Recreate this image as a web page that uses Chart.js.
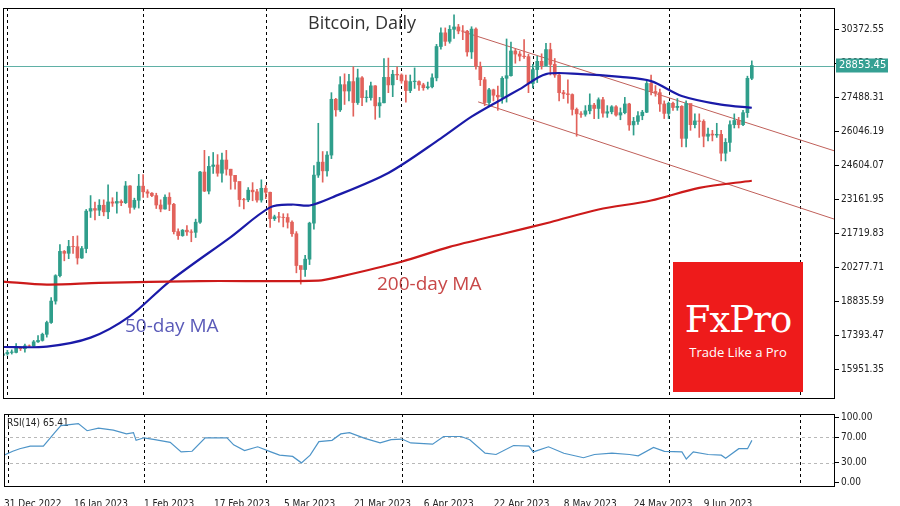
<!DOCTYPE html>
<html>
<head>
<meta charset="utf-8">
<script src="https://cdn.jsdelivr.net/npm/chart.js@4.4.0/dist/chart.umd.min.js"></script>
<style>
  body { margin: 0; background: #fff; }
  #wrap { position: relative; width: 900px; height: 506px; overflow: hidden; }
  #mainBox { position: absolute; left: 0; top: 0; width: 900px; height: 406px; }
  #rsiBox  { position: absolute; left: 0; top: 406px; width: 900px; height: 100px; }
  .lbl { position: absolute; font-family: "Open Sans", "DejaVu Sans", sans-serif; white-space: nowrap; }
  #logo { position: absolute; left: 673px; top: 262px; width: 130px; height: 130px; background: #ee1b1b; color: #fff; text-align: center; }
</style>
</head>
<body>
<div id="wrap">
  <div id="mainBox"><canvas id="mainChart"></canvas></div>
  <div id="rsiBox"><canvas id="rsiChart"></canvas></div>
  <div class="lbl" style="left:308px;top:10px;font-size:18px;color:#333;">Bitcoin, Daily</div>
  <div class="lbl" style="left:125px;top:312px;font-size:19px;color:#5a5ab8;">50-day MA</div>
  <div class="lbl" style="left:377px;top:270px;font-size:19px;color:#c84848;">200-day MA</div>
  <div id="logo">
    <div style="font-family:'DejaVu Serif',serif;font-size:37px;margin-top:36px;letter-spacing:-1px;">FxPro</div>
    <div style="font-family:'Open Sans',sans-serif;font-size:13px;margin-top:2px;">Trade Like a Pro</div>
  </div>
</div>
<script>
// ---- data (day 0 = 31 Dec 2022) ----
const FIRST_OPEN = 16540;
const closes = [16610,16670,16670,16850,16830,16950,16940,17120,17180,17440,17940,18850,19930,20960,20880,21170,21160,20680,21080,22670,
  22780,22710,22920,22640,23060,23010,23080,23030,23740,22830,23130,23730,23490,23430,23330,22930,22760,23260,22960,21800,
  21630,21860,21790,21770,22200,24330,23520,24570,24630,24280,24840,24450,24190,23930,23160,23150,23560,23490,23140,23640,
  23470,22350,22430,22410,22400,22200,21710,20360,20190,20630,22160,24200,24750,24380,25050,27420,26970,28040,27770,28170,
  27280,28330,27490,27490,27990,27140,27270,28350,28030,28480,28450,28200,27790,28170,28170,28030,27910,27950,28330,29660,
  30240,29880,30390,30490,30320,30310,29430,30400,28820,28250,27280,27820,27590,27520,28310,28420,29470,29340,29250,29230,
  28090,28680,29030,28850,29530,28900,28450,27700,27650,27620,26990,26800,26780,26930,27170,27030,27400,26830,26890,27100,
  26750,26850,27220,26330,26480,26720,26870,28090,27750,27700,27220,26820,27250,27070,27120,25760,27240,26340,26500,26480,
  25850,25940,25900,25930,25130,25590,26340,26520,26340,26850,28310,28853.45];
const highs = [16630,16760,16780,17050,16880,17020,16990,17180,17390,17490,18000,19000,19970,21250,21000,21430,21600,21620,21170,22740,
  23330,23050,23160,23150,23790,23240,23480,23150,23930,23750,23220,24230,24220,23580,23460,23430,23150,23360,23450,23000,
  21920,21890,22060,21880,22330,24360,25250,24990,25160,25070,25130,25250,24450,24120,23900,23210,23670,23880,23600,24000,
  23760,23480,22500,22620,22560,22560,22260,21800,20300,20790,22200,24600,26400,25200,25200,27700,27460,28380,28500,28480,
  28800,28700,28380,27790,28150,28000,27500,29150,29170,28650,28800,28500,28450,28450,28750,28200,28100,28150,28500,29750,
  30450,30450,30550,31000,30600,30550,30350,30500,30450,29000,28350,27880,27850,27980,28380,29980,29850,29550,29450,29950,
  29330,28900,29250,29350,29800,29800,29150,28550,27800,28250,27650,27050,26900,27150,27650,27250,27480,27500,27150,27150,
  27150,27050,27500,27250,26650,26900,26950,28200,28450,28000,27850,27350,27300,27300,27450,27150,27350,27150,26800,26800,
  26550,26200,26100,26400,26100,25750,26500,26800,26650,26950,28400,29050];
const lows = [16500,16550,16600,16650,16750,16680,16900,16910,17100,17150,17320,17900,18720,19880,20560,20650,20870,20420,20660,20900,
  22400,22300,22480,22470,22350,22870,22580,22900,22990,22580,22750,22800,23250,23250,23280,22780,22640,22750,22690,21700,
  21470,21600,21640,21370,21550,22150,23500,23400,24270,24150,23900,24200,23600,23600,22870,22760,23070,23110,23050,23050,
  23200,21980,22270,22200,22000,21950,21600,20050,19570,19900,20400,21900,24100,23900,24150,24900,26700,26900,27200,27350,
  26700,27200,27150,27300,27380,26570,26650,27260,27700,27530,28250,28100,27300,27700,27880,27800,27800,27850,27900,28200,
  29550,29700,29800,30000,30200,29950,29250,29150,28700,28000,27150,27150,27350,26950,27250,27300,28400,28950,29050,29150,
  27700,27900,28130,28700,28850,28450,28350,27350,27450,27250,26750,25850,26650,26700,26800,26600,26600,26660,26650,26800,
  26700,26550,26800,26100,25900,26350,26550,26850,27600,27550,26900,26600,26600,26950,26950,25400,25400,26100,26200,25800,
  25400,25650,25650,25800,24800,24800,25200,26200,26200,26300,26650,28250];

const ma50 = [{x:0,y:16900},{x:10,y:16920},{x:20,y:17300},{x:29,y:18215},{x:38,y:19680},{x:52,y:21570},{x:61,y:22830},
  {x:66,y:22950},{x:70,y:22910},{x:75,y:23240},{x:88,y:24290},{x:100,y:25760},{x:107,y:26680},{x:114,y:27430},
  {x:118,y:27850},{x:124,y:28490},{x:132,y:28490},{x:141,y:28370},{x:148,y:28190},{x:155,y:27560},{x:164,y:27190},{x:171,y:27060}];
const ma200 = [{x:0,y:19680},{x:10,y:19550},{x:22,y:19620},{x:45,y:19700},{x:72,y:19720},{x:77,y:19890},{x:91,y:20520},
  {x:102,y:21150},{x:114,y:21700},{x:125,y:22200},{x:136,y:22740},{x:148,y:23120},{x:159,y:23660},{x:171,y:23960}];
const channelUpper = [{x:105,y:30290},{x:190,y:25220}];
const channelLower = [{x:108.5,y:27310},{x:190,y:22320}];
const rsi = [{x:0,y:42},{x:2,y:48},{x:3.6,y:52},{x:6,y:56},{x:9,y:56},{x:11.6,y:77},{x:13,y:88},{x:17,y:91},{x:19,y:80},
  {x:21.6,y:84},{x:25,y:81},{x:28,y:75},{x:29.6,y:77},{x:30.2,y:65},{x:32,y:69},{x:34.5,y:66},{x:38,y:62},{x:40.5,y:47},
  {x:43,y:48},{x:46,y:69},{x:51,y:69},{x:52.5,y:58},{x:55,y:49},{x:58,y:55},{x:61,y:47},{x:63,y:42},{x:66,y:40},{x:68,y:30},
  {x:70,y:42},{x:72,y:63},{x:75,y:65},{x:77,y:75},{x:79,y:77},{x:82.5,y:68},{x:86,y:61},{x:88.5,y:66},{x:91,y:67},{x:93,y:61},
  {x:98,y:59},{x:100.5,y:71},{x:104.5,y:71},{x:106.5,y:66},{x:110,y:45},{x:112.5,y:43},{x:116.5,y:57},{x:120,y:56},{x:121,y:47},
  {x:124.5,y:55},{x:128,y:45},{x:132.5,y:38},{x:135,y:43},{x:139,y:45},{x:143,y:43},{x:145,y:41},{x:148.5,y:54},{x:151,y:48},
  {x:155,y:47},{x:156,y:36},{x:157.6,y:47},{x:161,y:43},{x:164,y:42},{x:165,y:37},{x:168,y:52},{x:170,y:52},{x:171,y:65}];

const priceTicks = [15951.35,17393.47,18835.59,20277.71,21719.83,23161.95,24604.07,26046.19,27488.31,28930.43,30372.55];
const rsiTicks = [0,30,70,100];
const monthStarts = [1,32,60,91,121,152,182];
const LAST_PRICE = 28853.45;
const X_MAX = 190;

const UP = '#2f9e8b', DOWN = '#e2625b';
const opens = closes.map((c, i) => i === 0 ? FIRST_OPEN : closes[i - 1]);
const candleColors = closes.map((c, i) => c >= opens[i] ? UP : DOWN);

function dayLabel(d) {
  const dt = new Date(Date.UTC(2022, 11, 31 + d));
  const m = ['Jan','Feb','Mar','Apr','May','Jun','Jul','Aug','Sep','Oct','Nov','Dec'][dt.getUTCMonth()];
  return dt.getUTCDate() + ' ' + m + ' ' + dt.getUTCFullYear();
}

// month separators, frame, last price line
const decor = {
  id: 'decor',
  beforeDatasetsDraw(chart) {
    const { ctx, chartArea: a, scales } = chart;
    ctx.save();
    ctx.strokeStyle = '#000';
    ctx.lineWidth = 1;
    ctx.setLineDash([3, 3]);
    monthStarts.forEach(d => {
      const x = Math.round(scales.x.getPixelForValue(d)) + 0.5;
      if (x < a.left || x > a.right) return;
      ctx.beginPath(); ctx.moveTo(x, a.top); ctx.lineTo(x, a.bottom); ctx.stroke();
    });
    ctx.setLineDash([]);
    if (chart.canvas.id === 'mainChart') {
      const y = Math.round(scales.y.getPixelForValue(LAST_PRICE)) + 0.5;
      ctx.strokeStyle = '#5fb0a6';
      ctx.beginPath(); ctx.moveTo(a.left, y); ctx.lineTo(a.right, y); ctx.stroke();
    } else {
      ctx.strokeStyle = '#b8b8b8';
      ctx.setLineDash([3, 3]);
      [30, 70].forEach(v => {
        const y = Math.round(scales.y.getPixelForValue(v)) + 0.5;
        ctx.beginPath(); ctx.moveTo(a.left, y); ctx.lineTo(a.right, y); ctx.stroke();
      });
      ctx.setLineDash([]);
      ctx.fillStyle = '#222';
      ctx.font = '10px "DejaVu Sans Condensed", "DejaVu Sans", sans-serif';
      ctx.fillText('RSI(14) 65.41', a.left + 3, a.top + 12);
    }
    ctx.restore();
  },
  afterDraw(chart) {
    const { ctx, chartArea: a, scales } = chart;
    ctx.save();
    ctx.strokeStyle = '#000';
    ctx.lineWidth = 1;
    ctx.strokeRect(a.left + 0.5, a.top + 0.5, a.right - a.left - 1, a.bottom - a.top);
    if (chart.canvas.id === 'mainChart') {
      const y = scales.y.getPixelForValue(LAST_PRICE);
      ctx.fillStyle = '#35a093';
      ctx.fillRect(a.right + 1, y - 7, 52, 14);
      ctx.fillStyle = '#fff';
      ctx.font = '11px "DejaVu Sans Condensed", "DejaVu Sans", sans-serif';
      ctx.textBaseline = 'middle';
      ctx.fillText(LAST_PRICE.toFixed(2), a.right + 4, y);
    }
    ctx.restore();
  }
};

const tickFont = { family: '"DejaVu Sans Condensed", "DejaVu Sans", sans-serif', size: 10 };

new Chart(document.getElementById('mainChart'), {
  type: 'bar',
  data: {
    datasets: [
      { type: 'line', data: channelUpper, borderColor: '#c0605a', borderWidth: 1, pointRadius: 0, order: 5 },
      { type: 'line', data: channelLower, borderColor: '#c0605a', borderWidth: 1, pointRadius: 0, order: 5 },
      { type: 'line', data: ma200, borderColor: '#cc1a1a', borderWidth: 2.2, pointRadius: 0, tension: 0.3, order: 0 },
      { type: 'line', data: ma50, borderColor: '#1a1aa8', borderWidth: 2.2, pointRadius: 0, tension: 0.3, order: 0 },
      { data: closes.map((c, i) => ({ x: i, y: [lows[i], highs[i]] })), backgroundColor: candleColors,
        barThickness: 1, grouped: false, order: 2 },
      { data: closes.map((c, i) => ({ x: i, y: [opens[i], c === opens[i] ? c + 20 : c] })), backgroundColor: candleColors,
        barThickness: 3, grouped: false, order: 1 },
    ]
  },
  options: {
    animation: false, responsive: true, maintainAspectRatio: false,
    layout: { padding: { left: 3, top: 8, bottom: 3, right: 0 } },
    plugins: { legend: { display: false }, tooltip: { enabled: false } },
    scales: {
      x: { type: 'linear', min: 0, max: X_MAX, display: false, offset: false },
      y: {
        position: 'right', min: 14735, max: 31295,
        afterBuildTicks: s => { s.ticks = priceTicks.map(v => ({ value: v })); },
        afterFit: s => { s.width = 65; },
        grid: { drawOnChartArea: false, tickLength: 4, color: '#000' },
        border: { display: false },
        ticks: { color: '#222', font: tickFont, padding: 2, callback: v => v.toFixed(2) }
      }
    }
  },
  plugins: [decor]
});

new Chart(document.getElementById('rsiChart'), {
  type: 'line',
  data: { datasets: [{ data: rsi, borderColor: '#4d94c8', borderWidth: 1.2, pointRadius: 0, tension: 0 }] },
  options: {
    animation: false, responsive: true, maintainAspectRatio: false,
    layout: { padding: { left: 3, top: 3, right: 0, bottom: 0 } },
    plugins: { legend: { display: false }, tooltip: { enabled: false } },
    scales: {
      x: {
        type: 'linear', min: 0, max: X_MAX,
        afterBuildTicks: s => { s.ticks = []; for (let d = 0; d <= 160; d += 16) s.ticks.push({ value: d }); },
        afterFit: s => { s.height = 20; },
        grid: { display: false }, border: { display: false },
        ticks: { color: '#222', font: tickFont, align: 'start', maxRotation: 0, autoSkip: false, padding: 4,
          callback: v => dayLabel(v) }
      },
      y: {
        position: 'right', min: -6, max: 106,
        afterBuildTicks: s => { s.ticks = rsiTicks.map(v => ({ value: v })); },
        afterFit: s => { s.width = 65; },
        grid: { drawOnChartArea: false, tickLength: 4, color: '#000' },
        border: { display: false },
        ticks: { color: '#222', font: tickFont, padding: 2, callback: v => v.toFixed(2) }
      }
    }
  },
  plugins: [decor]
});
</script>
</body>
</html>
